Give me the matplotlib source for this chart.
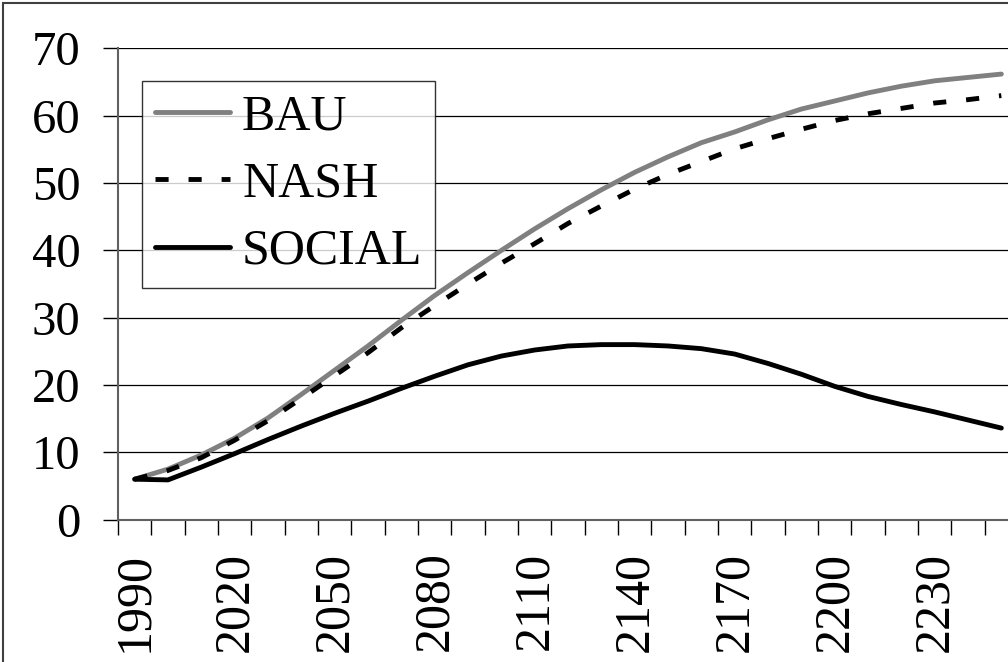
import matplotlib
matplotlib.use('Agg')
import matplotlib.pyplot as plt
from matplotlib.patches import Rectangle
import numpy as np

plt.rcParams['font.family'] = ['Liberation Serif', 'DejaVu Serif']

years = list(range(1990, 2260, 10))
bau = [6.0, 7.5, 9.6, 12.1, 15.1, 18.6, 22.2, 25.8, 29.6, 33.3, 36.7, 40.0, 43.2, 46.2,
       49.0, 51.6, 53.9, 56.0, 57.6, 59.4, 61.0, 62.2, 63.4, 64.4, 65.2, 65.7, 66.2]
nash = [6.0, 7.3, 9.2, 11.8, 14.7, 18.0, 21.4, 24.8, 28.5, 31.8, 35.0, 38.1, 41.0, 44.0,
        46.6, 49.1, 51.3, 53.2, 55.1, 56.6, 58.0, 59.3, 60.3, 61.1, 61.9, 62.4, 63.0]
social = [6.0, 5.9, 7.8, 9.8, 11.9, 13.9, 15.8, 17.6, 19.5, 21.3, 23.0, 24.3, 25.2, 25.8,
          26.0, 26.0, 25.8, 25.4, 24.6, 23.2, 21.6, 19.8, 18.3, 17.1, 16.0, 14.8, 13.6]
yticks = [0, 10, 20, 30, 40, 50, 60, 70]

fs = 35
lw = 3.5
fig = plt.figure(figsize=(10.08, 6.62), dpi=100)
ax = fig.add_axes([118 / 1008, 142.4 / 662, 900 / 1008, 471.1 / 662])

x = np.arange(len(years))
ax.plot(x, bau, color='#808080', lw=lw, label='BAU', solid_capstyle='round')
ax.plot(x, nash, color='black', lw=lw, linestyle=(0, (2.7, 4.1)), dash_capstyle='butt', label='NASH')
ax.plot(x, social, color='black', lw=lw, label='SOCIAL', solid_capstyle='round')

ax.set_xlim(-0.5, len(years) - 0.5)
ax.set_ylim(0, 70)

# horizontal gridlines
ax.set_yticks(yticks)
ax.set_yticklabels([str(v) for v in yticks], fontsize=fs)
ax.yaxis.grid(True, color='black', lw=0.9)
ax.set_axisbelow(True)
ax.tick_params(axis='y', direction='out', length=11, width=1, pad=16)

# category boundaries as tick marks, labels every third year
ax.set_xticks(x[::3])
ax.set_xticklabels([str(years[i]) for i in x[::3]], rotation=90, fontsize=36)
ax.set_xticks(np.arange(len(years) + 1) - 0.5, minor=True)
ax.tick_params(axis='x', which='major', length=0, pad=23)
ax.tick_params(axis='x', which='minor', direction='out', length=11, width=1)

for s in ['top', 'right']:
    ax.spines[s].set_visible(False)
for s in ['left', 'bottom']:
    ax.spines[s].set_color('#606060')
    ax.spines[s].set_linewidth(1.5)

leg = ax.legend(loc='upper left', bbox_to_anchor=(142 / 1008, 1 - 81 / 662),
                bbox_transform=fig.transFigure, prop={'size': 36}, frameon=True,
                fancybox=False, handlelength=1.5, handletextpad=0.25,
                labelspacing=0.42, borderpad=0.25, borderaxespad=0)
leg.get_frame().set_edgecolor('black')
leg.get_frame().set_linewidth(1)

fig.patches.append(Rectangle((3 / 1008, -0.2), 1.3, 1.2 - 3 / 662, transform=fig.transFigure,
                             fill=False, edgecolor='#404040', lw=1.5))

fig.savefig('out.png', dpi=100)
